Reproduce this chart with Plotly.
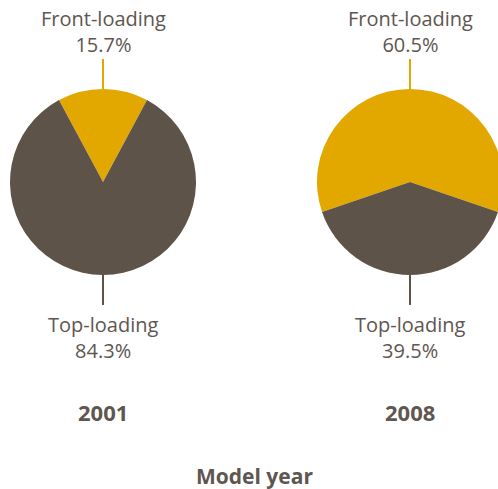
import plotly.graph_objects as go

# Washer market share by loading type
years = ["2001", "2008"]
types = ["Front-loading", "Top-loading"]
shares = {"2001": [15.7, 84.3], "2008": [60.5, 39.5]}

GOLD = "#E2A800"
BROWN = "#5E5349"
TEXT = "#5E5650"

W, H = 506, 489
FONT = "Open Sans"

# pie centres and radius in pixels
centres = [(103, 182), (410, 182)]
R = 93


def px(x):
    return x / W


def py(y):
    return 1 - y / H


fig = go.Figure()
annotations = []
shapes = []

for year, (cx, cy) in zip(years, centres):
    vals = shares[year]
    fig.add_trace(go.Pie(
        labels=types,
        values=vals,
        sort=False,
        direction="clockwise",
        rotation=-vals[0] * 360 / 100 / 2,
        marker=dict(colors=[GOLD, BROWN], line=dict(width=0)),
        textinfo="none",
        hoverinfo="label+percent",
        showlegend=False,
        domain=dict(x=[px(cx - R), px(cx + R)], y=[py(cy + R), py(cy - R)]),
    ))
    # leader lines
    shapes.append(dict(type="line", xref="paper", yref="paper",
                       x0=px(cx), x1=px(cx), y0=py(cy - R), y1=py(cy - R - 30),
                       line=dict(color=GOLD, width=2)))
    shapes.append(dict(type="line", xref="paper", yref="paper",
                       x0=px(cx), x1=px(cx), y0=py(cy + R), y1=py(cy + R + 30),
                       line=dict(color=BROWN, width=2)))
    # labels
    annotations.append(dict(x=px(cx), y=py(32), xref="paper", yref="paper",
                            text=f"{types[0]}<br>{vals[0]:.1f}%", showarrow=False,
                            font=dict(family=FONT, size=20, color=TEXT),
                            xanchor="center", yanchor="middle"))
    annotations.append(dict(x=px(cx), y=py(337), xref="paper", yref="paper",
                            text=f"{types[1]}<br>{vals[1]:.1f}%", showarrow=False,
                            font=dict(family=FONT, size=20, color=TEXT),
                            xanchor="center", yanchor="middle"))
    annotations.append(dict(x=px(cx), y=py(412), xref="paper", yref="paper",
                            text=f"<b>{year}</b>", showarrow=False,
                            font=dict(family=FONT, size=22, color=TEXT),
                            xanchor="center", yanchor="middle"))

annotations.append(dict(x=px(254), y=py(476), xref="paper", yref="paper",
                        text="<b>Model year</b>", showarrow=False,
                        font=dict(family=FONT, size=21, color=TEXT),
                        xanchor="center", yanchor="middle", borderpad=0))

fig.update_layout(
    width=W, height=H, autosize=False,
    margin=dict(l=0, r=0, t=0, b=0),
    paper_bgcolor="white", plot_bgcolor="white",
    annotations=annotations, shapes=shapes,
)

fig.write_html(
    "out.html",
    config={"displayModeBar": False},
    post_script="document.body.style.overflow='hidden';document.documentElement.style.overflow='hidden';",
)
